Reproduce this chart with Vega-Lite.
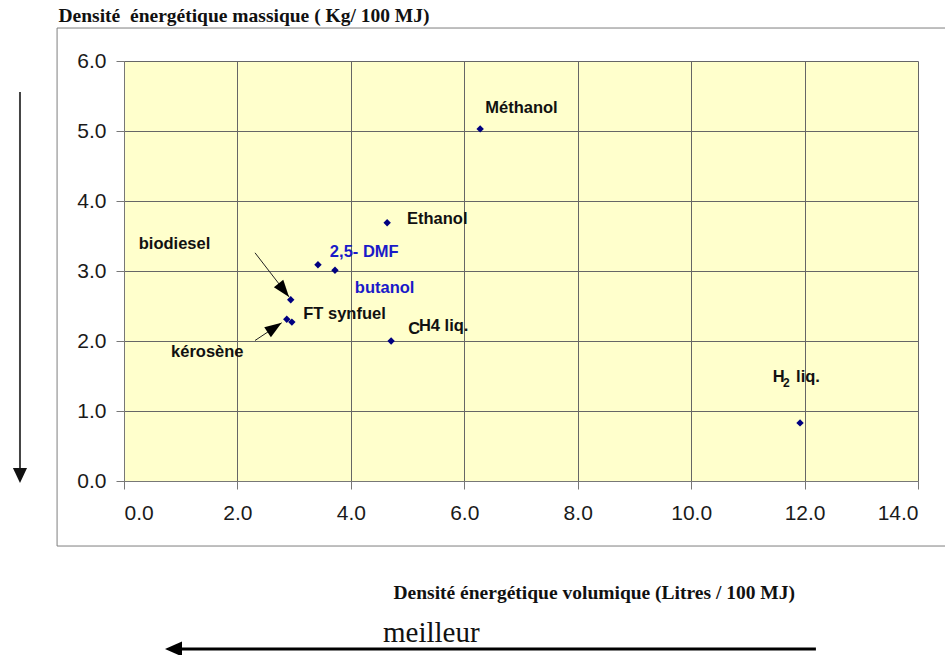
{
  "$schema": "https://vega.github.io/schema/vega-lite/v6.json",
  "width": 794,
  "height": 420,
  "autosize": "none",
  "padding": {"left": 124, "top": 61, "right": 27, "bottom": 174},
  "background": "white",
  "config": {
    "view": {"fill": "#FFFFCC", "stroke": null},
    "axis": {
      "gridColor": "#666666", "gridOpacity": 1, "gridWidth": 1,
      "domainColor": "#777777", "tickColor": "#777777", "tickSize": 8,
      "labelFont": "Liberation Sans", "labelFontSize": 21, "labelColor": "#1a1a1a"
    }
  },
  "datasets": {
    "carburants": [
      {"nom": "Méthanol", "volumique": 6.28, "massique": 5.03},
      {"nom": "Ethanol", "volumique": 4.64, "massique": 3.69},
      {"nom": "2,5- DMF", "volumique": 3.42, "massique": 3.09},
      {"nom": "butanol", "volumique": 3.72, "massique": 3.01},
      {"nom": "biodiesel", "volumique": 2.94, "massique": 2.59},
      {"nom": "kérosène", "volumique": 2.87, "massique": 2.31},
      {"nom": "FT synfuel", "volumique": 2.96, "massique": 2.27},
      {"nom": "CH4 liq.", "volumique": 4.71, "massique": 2.0},
      {"nom": "H2 liq.", "volumique": 11.92, "massique": 0.83}
    ],
    "etiquettes": [
      {"texte": "Méthanol", "type": "classique", "lx": 6.37, "ly": 5.26},
      {"texte": "Ethanol", "type": "classique", "lx": 4.99, "ly": 3.67},
      {"texte": "2,5- DMF", "type": "nouveau", "lx": 3.63, "ly": 3.2},
      {"texte": "butanol", "type": "nouveau", "lx": 4.07, "ly": 2.69},
      {"texte": "biodiesel", "type": "classique", "lx": 0.26, "ly": 3.31},
      {"texte": "FT synfuel", "type": "classique", "lx": 3.16, "ly": 2.31},
      {"texte": "kérosène", "type": "classique", "lx": 0.83, "ly": 1.77},
      {"texte": "C", "type": "classique", "lx": 5.01, "ly": 2.1},
      {"texte": "H4 liq.", "type": "classique", "lx": 5.2, "ly": 2.14},
      {"texte": "H", "type": "classique", "lx": 11.44, "ly": 1.41},
      {"texte": "liq.", "type": "classique", "lx": 11.85, "ly": 1.41}
    ],
    "fleches": [
      {"cible": "biodiesel", "x1": 2.31, "y1": 3.26, "x2": 2.91, "y2": 2.63},
      {"cible": "kérosène", "x1": 2.31, "y1": 2.007, "x2": 2.78, "y2": 2.26}
    ]
  },
  "layer": [
    {
      "data": {"name": "carburants"},
      "mark": {"type": "point", "shape": "diamond", "filled": true, "color": "#000080", "size": 55, "opacity": 1},
      "encoding": {
        "x": {
          "field": "volumique", "type": "quantitative",
          "scale": {"domain": [0, 14], "nice": false, "zero": false},
          "axis": {
            "values": [0, 2, 4, 6, 8, 10, 12, 14], "format": ".1f", "labelPadding": 13,
            "title": "Densité énergétique volumique (Litres / 100 MJ)",
            "titleFont": "Liberation Serif", "titleFontSize": 19.5, "titleFontWeight": "bold",
            "titleColor": "#111111", "titleX": 269, "titleY": 117,
            "titleAlign": "left", "titleBaseline": "alphabetic"
          }
        },
        "y": {
          "field": "massique", "type": "quantitative",
          "scale": {"domain": [0, 6], "nice": false, "zero": false},
          "axis": {
            "values": [0, 1, 2, 3, 4, 5, 6], "format": ".1f", "labelPadding": 10,
            "title": "Densité\u00a0 énergétique massique ( Kg/ 100 MJ)",
            "titleFont": "Liberation Serif", "titleFontSize": 19.5, "titleFontWeight": "bold",
            "titleColor": "#111111", "titleAngle": 0, "titleX": -66, "titleY": -40,
            "titleAlign": "left", "titleBaseline": "alphabetic"
          }
        }
      }
    },
    {
      "data": {"values": [{}]},
      "mark": {"type": "rect", "fill": "transparent", "stroke": "#7f7f7f", "strokeWidth": 1, "clip": false},
      "encoding": {
        "x": {"datum": -1.18, "type": "quantitative"},
        "x2": {"datum": 15.5},
        "y": {"datum": -0.929, "type": "quantitative"},
        "y2": {"datum": 6.471}
      }
    },
    {
      "data": {"name": "etiquettes"},
      "mark": {"type": "text", "align": "left", "baseline": "alphabetic", "font": "Liberation Sans", "fontWeight": "bold", "fontSize": 16.5, "clip": false},
      "encoding": {
        "x": {"field": "lx", "type": "quantitative"},
        "y": {"field": "ly", "type": "quantitative"},
        "text": {"field": "texte"},
        "color": {"field": "type", "type": "nominal", "scale": {"domain": ["classique", "nouveau"], "range": ["#111111", "#1a1ac8"]}, "legend": null}
      }
    },
    {
      "data": {"values": [{}]},
      "mark": {"type": "text", "align": "left", "baseline": "alphabetic", "font": "Liberation Sans", "fontWeight": "bold", "fontSize": 12, "color": "#111111"},
      "encoding": {
        "x": {"datum": 11.62, "type": "quantitative"},
        "y": {"datum": 1.34, "type": "quantitative"},
        "text": {"value": "2"}
      }
    },
    {
      "data": {"name": "fleches"},
      "mark": {"type": "rule", "color": "#222222", "strokeWidth": 1},
      "encoding": {
        "x": {"field": "x1", "type": "quantitative"},
        "y": {"field": "y1", "type": "quantitative"},
        "x2": {"field": "x2"},
        "y2": {"field": "y2"}
      }
    },
    {
      "data": {"values": [{}]},
      "mark": {"type": "point", "shape": "M0,0L-0.35,1L0.35,1Z", "filled": true, "color": "#000000", "opacity": 1, "size": 1156, "angle": 142},
      "encoding": {
        "x": {"datum": 2.91, "type": "quantitative"},
        "y": {"datum": 2.63, "type": "quantitative"}
      }
    },
    {
      "data": {"values": [{}]},
      "mark": {"type": "point", "shape": "M0,0L-0.35,1L0.35,1Z", "filled": true, "color": "#000000", "opacity": 1, "size": 1156, "angle": 56},
      "encoding": {
        "x": {"datum": 2.78, "type": "quantitative"},
        "y": {"datum": 2.26, "type": "quantitative"}
      }
    },
    {
      "data": {"values": [{}]},
      "mark": {"type": "rule", "color": "#444444", "strokeWidth": 2, "clip": false},
      "encoding": {
        "x": {"datum": -1.834, "type": "quantitative"},
        "y": {"datum": 5.557, "type": "quantitative"},
        "y2": {"datum": 0.1}
      }
    },
    {
      "data": {"values": [{}]},
      "mark": {"type": "point", "shape": "M0,0L-0.47,1L0.47,1Z", "filled": true, "color": "#111111", "opacity": 1, "size": 900, "angle": 180, "clip": false},
      "encoding": {
        "x": {"datum": -1.834, "type": "quantitative"},
        "y": {"datum": -0.029, "type": "quantitative"}
      }
    },
    {
      "data": {"values": [{}]},
      "mark": {"type": "rule", "color": "#000000", "strokeWidth": 3, "clip": false},
      "encoding": {
        "x": {"datum": 0.9, "type": "quantitative"},
        "x2": {"datum": 12.2},
        "y": {"datum": -2.4, "type": "quantitative"}
      }
    },
    {
      "data": {"values": [{}]},
      "mark": {"type": "point", "shape": "M0,0L-0.44,1L0.44,1Z", "filled": true, "color": "#000000", "opacity": 1, "size": 1156, "angle": 270, "clip": false},
      "encoding": {
        "x": {"datum": 0.723, "type": "quantitative"},
        "y": {"datum": -2.4, "type": "quantitative"}
      }
    },
    {
      "data": {"values": [{}]},
      "mark": {"type": "text", "align": "left", "baseline": "alphabetic", "font": "Liberation Serif", "fontSize": 29, "color": "#111111", "clip": false},
      "encoding": {
        "x": {"datum": 4.567, "type": "quantitative"},
        "y": {"datum": -2.3, "type": "quantitative"},
        "text": {"value": "meilleur"}
      }
    }
  ]
}
